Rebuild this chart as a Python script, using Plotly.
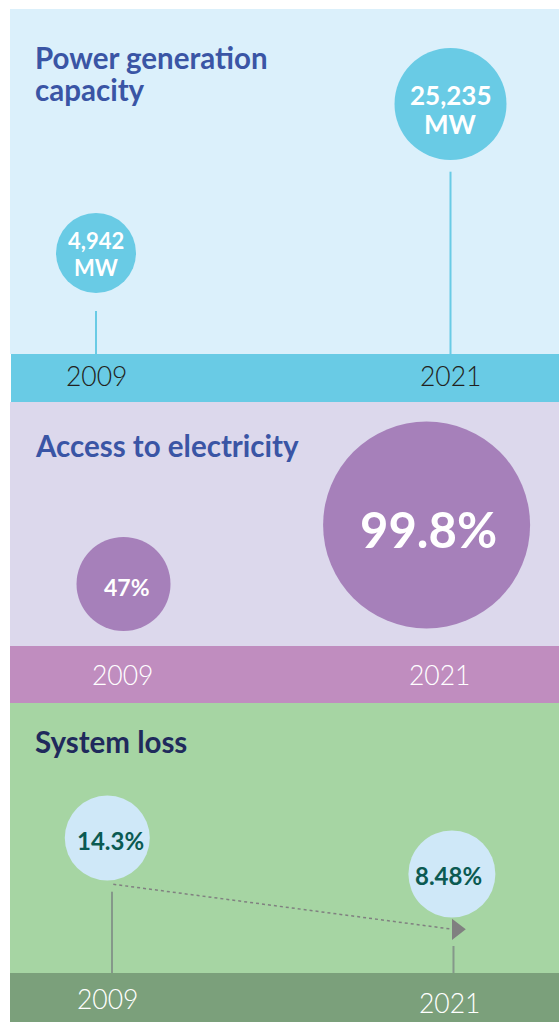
import plotly.graph_objects as go

# ---------------- data ----------------
years = [2009, 2021]
year_labels = ["2009", "2021"]

capacity_mw = [4942, 25235]
capacity_labels = ["4,942", "25,235"]
capacity_unit = "MW"

access_pct = [47, 99.8]
access_labels = ["47%", "99.8%"]

loss_pct = [14.3, 8.48]
loss_labels = ["14.3%", "8.48%"]

titles = [["Power generation", "capacity"], ["Access to electricity"], ["System loss"]]

# ---------------- styles / layout ----------------
W, H = 559, 1022
FONT = "Lato"


def fx(p):
    return p / W


def fy(p):
    return 1 - p / H


# panel geometry (pixels): background top, band top, band bottom
P1 = dict(top=9, band=354, bottom=402, xr=[2005.750, 2024.673], yr=[-8814, 38174])
P2 = dict(top=402, band=646, bottom=703, xr=[2004.110, 2026.242], yr=[-8.49, 209.88])
P3 = dict(top=703, band=973, bottom=1022, xr=[2005.264, 2024.730], yr=[-7.525, 36.125])

BG = ["#dbf0fb", "#dcd8ec", "#a6d5a3"]
BAND = ["#69cbe5", "#c08dbf", "#7ba07b"]
BUBBLE = ["#69cbe5", "#a680ba", "#cfe8f8"]
TITLE_COL = ["#3a55a5", "#3a55a5", "#1f2a5c"]

cap_sizes = [80, 112]
acc_sizes = [94, 207]
loss_sizes = [85, 87]


def upp(P):  # y data units per pixel
    return (P["yr"][1] - P["yr"][0]) / (P["band"] - P["top"])


def xpp(P):  # x data units per pixel
    return (P["xr"][1] - P["xr"][0]) / W


fig = go.Figure()

# backgrounds and bands
shapes = []
for i, P in enumerate([P1, P2, P3]):
    shapes.append(dict(type="rect", xref="paper", yref="paper", x0=fx(10), x1=1,
                       y0=fy(P["band"]), y1=fy(P["top"]), fillcolor=BG[i],
                       line=dict(width=0), layer="below"))
    shapes.append(dict(type="rect", xref="paper", yref="paper", x0=fx(10 if i else 11), x1=1,
                       y0=fy(P["bottom"]), y1=fy(P["band"]), fillcolor=BAND[i],
                       line=dict(width=0), layer="below"))

# ---- panel 1 ----
gap1 = [58, 67.7]
for yv, yr, g in zip(years, capacity_mw, gap1):
    fig.add_trace(go.Scatter(x=[yv, yv], y=[P1["yr"][0], yr - g * upp(P1)], mode="lines",
                             line=dict(color="#69cbe5", width=2), xaxis="x", yaxis="y",
                             hoverinfo="skip"))
fig.add_trace(go.Scatter(x=years, y=capacity_mw, mode="markers", xaxis="x", yaxis="y",
                         marker=dict(size=cap_sizes, color=BUBBLE[0], opacity=1,
                                     line=dict(width=0)),
                         cliponaxis=False, hoverinfo="skip"))

# ---- panel 2 ----
fig.add_trace(go.Scatter(x=years, y=access_pct, mode="markers", xaxis="x2", yaxis="y2",
                         marker=dict(size=acc_sizes, color=BUBBLE[1], opacity=1,
                                     line=dict(width=0)),
                         cliponaxis=False, hoverinfo="skip"))

# ---- panel 3 ----
stem3 = [(4.7, 53.7), (1.6, 72)]
for yv, v, (dx, g) in zip(years, loss_pct, stem3):
    xx = yv + dx * xpp(P3)
    fig.add_trace(go.Scatter(x=[xx, xx], y=[P3["yr"][0], v - g * upp(P3)], mode="lines",
                             line=dict(color="#85988a", width=2), xaxis="x3", yaxis="y3",
                             hoverinfo="skip"))
# dashed trend arrow
arrow_off = [(6, 46.3), (1, 55.3)]
ax_ = [yv + dx * xpp(P3) for yv, (dx, dy) in zip(years, arrow_off)]
ay_ = [v - dy * upp(P3) for v, (dx, dy) in zip(loss_pct, arrow_off)]
fig.add_trace(go.Scatter(x=ax_, y=ay_, mode="lines", xaxis="x3", yaxis="y3",
                         line=dict(color="#808080", width=1.5, dash="dot"), hoverinfo="skip"))
fig.add_trace(go.Scatter(x=[years[1] + 4.7 * xpp(P3)], y=[loss_pct[1] - 55.3 * upp(P3)],
                         mode="markers", xaxis="x3", yaxis="y3",
                         marker=dict(symbol="triangle-right", size=18.4, color="#808080",
                                     opacity=1, line=dict(width=0)),
                         cliponaxis=False, hoverinfo="skip"))
fig.add_trace(go.Scatter(x=years, y=loss_pct, mode="markers", xaxis="x3", yaxis="y3",
                         marker=dict(size=loss_sizes, color=BUBBLE[2], opacity=1,
                                     line=dict(width=0)),
                         cliponaxis=False, hoverinfo="skip"))

ann = []
# titles (one annotation per line, centred on cap height)
title_rows = [[57.5, 90], [445], [741]]
title_fs = [29.5, 29.5, 29.5]
for i, (lines, rows) in enumerate(zip(titles, title_rows)):
    for line, yp in zip(lines, rows):
        ann.append(dict(text=f"<b>{line}</b>", xref="paper", yref="paper", x=fx(32.5),
                        y=fy(yp), xanchor="left", yanchor="middle", align="left",
                        showarrow=False,
                        font=dict(family=FONT, size=title_fs[i], color=TITLE_COL[i])))

# bubble texts panel 1
cap_fs = [22, 26]
cap_shift = [(12, -14), (8.5, -20)]
for yv, v, lab, fs, (s1, s2) in zip(years, capacity_mw, capacity_labels, cap_fs, cap_shift):
    ann.append(dict(text=f"<b>{lab}</b>", xref="x", yref="y", x=yv, y=v, yshift=s1,
                    showarrow=False, font=dict(family=FONT, size=fs, color="white")))
    ann.append(dict(text=f"<b>{capacity_unit}</b>", xref="x", yref="y", x=yv, y=v, yshift=s2,
                    showarrow=False, font=dict(family=FONT, size=fs, color="white")))

# bubble texts panel 2
acc_fs = [23, 49]
acc_shift = [(3.5, -3), (2, -4)]
for yv, v, lab, fs, (sx, sy) in zip(years, access_pct, access_labels, acc_fs, acc_shift):
    ann.append(dict(text=f"<b>{lab}</b>", xref="x2", yref="y2", x=yv, y=v, xshift=sx, yshift=sy,
                    showarrow=False, font=dict(family=FONT, size=fs, color="white")))

# bubble texts panel 3
loss_fs = [24, 24]
loss_shift = [(3, -2), (-3, -1.5)]
for yv, v, lab, fs, (sx, sy) in zip(years, loss_pct, loss_labels, loss_fs, loss_shift):
    ann.append(dict(text=f"<b>{lab}</b>", xref="x3", yref="y3", x=yv, y=v, xshift=sx, yshift=sy,
                    showarrow=False, font=dict(family=FONT, size=fs, color="#0b5a52")))

# year labels in bands
band_lab = [
    ("x", P1, [376, 376], [0.8, -0.5], "#231f20"),
    ("x2", P2, [674.5, 674.5], [-1, 12.4], "white"),
    ("x3", P3, [999, 1002.5], [0.2, -1.9], "white"),
]
for xr, P, ys, xs, col in band_lab:
    for yv, lab, yp, sx in zip(years, year_labels, ys, xs):
        ann.append(dict(text=lab, xref=xr, yref="paper", x=yv, y=fy(yp), xshift=sx,
                        yanchor="middle", showarrow=False,
                        font=dict(family=FONT, size=26.5, color=col, weight=300)))

layout_axes = {}
for i, P in enumerate([P1, P2, P3]):
    sfx = "" if i == 0 else str(i + 1)
    layout_axes["xaxis" + sfx] = dict(range=P["xr"], domain=[0, 1], visible=False,
                                      anchor="y" + sfx, fixedrange=True)
    layout_axes["yaxis" + sfx] = dict(range=P["yr"], domain=[fy(P["band"]), fy(P["top"])],
                                      visible=False, anchor="x" + sfx, fixedrange=True)

fig.update_layout(
    width=W, height=H, margin=dict(l=0, r=0, t=0, b=0),
    paper_bgcolor="white", plot_bgcolor="rgba(0,0,0,0)",
    showlegend=False, shapes=shapes, annotations=ann,
    font=dict(family=FONT),
    **layout_axes,
)

fig.write_html("out.html", config={"displayModeBar": False})
